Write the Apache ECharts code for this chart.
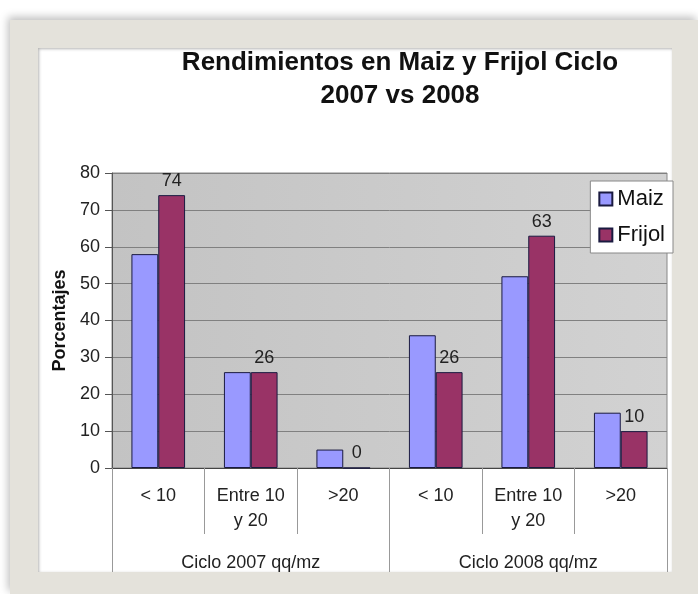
<!DOCTYPE html>
<html>
<head>
<meta charset="utf-8">
<script src="https://cdn.jsdelivr.net/npm/echarts@6/dist/echarts.min.js"></script>
<style>
  html, body { margin: 0; padding: 0; background: #fff; }
  #frame { position: absolute; left: 10px; top: 20px; width: 688px; height: 574px; background: #e4e2db; box-shadow: -2px -3px 8px rgba(0,0,0,0.25); }
  #panel { position: absolute; left: 38px; top: 48px; width: 634px; height: 524px; background: #fff; box-shadow: inset 1px 1px 3px rgba(0,0,0,0.3); }
  #chart { position: absolute; left: 0; top: 0; width: 698px; height: 594px; }
</style>
</head>
<body>
<div id="frame"></div>
<div id="panel"></div>
<div id="chart"></div>
<script>
// rangos de rendimiento (qq/mz) por ciclo
const categorias = ['< 10', 'Entre 10\ny 20', '>20', '< 10', 'Entre 10\ny 20', '>20'];
const ciclos = ['Ciclo 2007 qq/mz', 'Ciclo 2008 qq/mz'];
// porcentajes
const maiz = [58, 26, 5, 36, 52, 15];
const frijol = [74, 26, 0, 26, 63, 10];
// eje y
const yMin = 0, yMax = 80, yStep = 10;

const fuente = 'Liberation Sans, Arial, sans-serif';
const chart = echarts.init(document.getElementById('chart'), null, {renderer: 'canvas'});

const option = {
  backgroundColor: 'transparent',
  textStyle: {fontFamily: fuente},
  title: {
    text: 'Rendimientos en Maiz y Frijol Ciclo\n2007 vs 2008',
    left: 400,
    top: 46,
    padding: 0,
    textAlign: 'center',
    textStyle: {fontFamily: fuente, fontSize: 26, fontWeight: 'bold', lineHeight: 33, color: '#111'}
  },
  legend: {
    orient: 'vertical',
    right: 25,
    top: 181,
    padding: [7, 8, 7, 8],
    itemGap: 14,
    itemWidth: 13,
    itemHeight: 13,
    icon: 'rect',
    backgroundColor: '#fff',
    borderColor: '#888',
    borderWidth: 1,
    textStyle: {fontFamily: fuente, fontSize: 22, color: '#111'},
    data: ['Maiz', 'Frijol']
  },
  grid: {
    left: 112,
    right: 31,
    top: 173,
    bottom: 126,
    show: true,
    backgroundColor: new echarts.graphic.LinearGradient(0, 0, 1, 0, [
      {offset: 0, color: '#c3c3c3'},
      {offset: 1, color: '#d2d2d2'}
    ]),
    borderColor: '#888',
    borderWidth: 1
  },
  xAxis: [
    {
      type: 'category',
      data: categorias,
      axisLine: {lineStyle: {color: '#444'}},
      axisTick: {show: true, length: 66, lineStyle: {color: '#999'}},
      axisLabel: {margin: 16, fontSize: 18, lineHeight: 25, color: '#222', interval: 0}
    },
    {
      type: 'category',
      position: 'bottom',
      data: ciclos,
      axisLine: {show: false},
      axisTick: {show: true, length: 104, lineStyle: {color: '#999'}},
      axisLabel: {margin: 86, fontSize: 18, lineHeight: 18, color: '#222', interval: 0}
    }
  ],
  yAxis: {
    type: 'value',
    min: yMin,
    max: yMax,
    interval: yStep,
    name: 'Porcentajes',
    nameLocation: 'middle',
    nameGap: 43,
    nameTextStyle: {fontFamily: fuente, fontSize: 18, fontWeight: 'bold', color: '#111'},
    axisLine: {show: true, lineStyle: {color: '#555'}},
    axisTick: {show: true, length: 7, lineStyle: {color: '#555'}},
    axisLabel: {margin: 12, fontSize: 18, color: '#222'},
    splitLine: {lineStyle: {color: '#808080', width: 1}}
  },
  series: [
    {
      name: 'Maiz',
      type: 'bar',
      data: maiz,
      barGap: '0%',
      barCategoryGap: '42%',
      itemStyle: {color: '#9999ff', borderColor: '#1a1a40', borderWidth: 1}
    },
    {
      name: 'Frijol',
      type: 'bar',
      data: frijol,
      itemStyle: {color: '#993366', borderColor: '#1a1a40', borderWidth: 1},
      label: {show: true, position: 'top', distance: 5, fontSize: 18, color: '#222'}
    }
  ]
};

chart.setOption(option);
</script>
</body>
</html>
